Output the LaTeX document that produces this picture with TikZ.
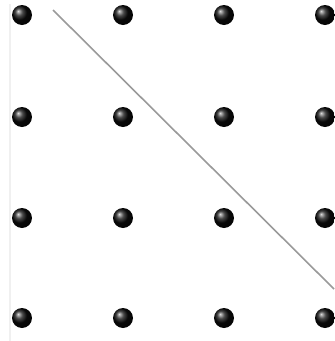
\documentclass[tikz,border=0pt]{standalone}
\usepackage{tikz}
\usetikzlibrary{calc}
\definecolor{linegray}{HTML}{9A9A9A}
\definecolor{edgegray}{HTML}{F0F0F0}

\begin{document}
\begin{tikzpicture}[x=1pt, y=-1pt, peg/.style={circle, inner sep=0pt, minimum size=20pt, shading=ball, ball color=black!95}]
  \useasboundingbox (0,0) rectangle (335,341);
  % faint left edge
  \coordinate (edgetop) at (10,4);
  \coordinate (edgebot) at (10,341);
  \draw[edgegray, line width=1.2pt] (edgetop) -- (edgebot);
  % grid of pegs
  \foreach \i/\x in {1/22,2/123,3/224,4/325}{
    \foreach \j/\y in {1/15,2/117,3/218,4/318}{
      \node[peg] (p\i\j) at (\x,\y) {};
    }
  }
  % diagonal line
  \coordinate (linestart) at (53,10);
  \coordinate (lineend) at (334,289);
  \draw[linegray, line width=1.6pt] (linestart) -- (lineend);
\end{tikzpicture}
\end{document}
